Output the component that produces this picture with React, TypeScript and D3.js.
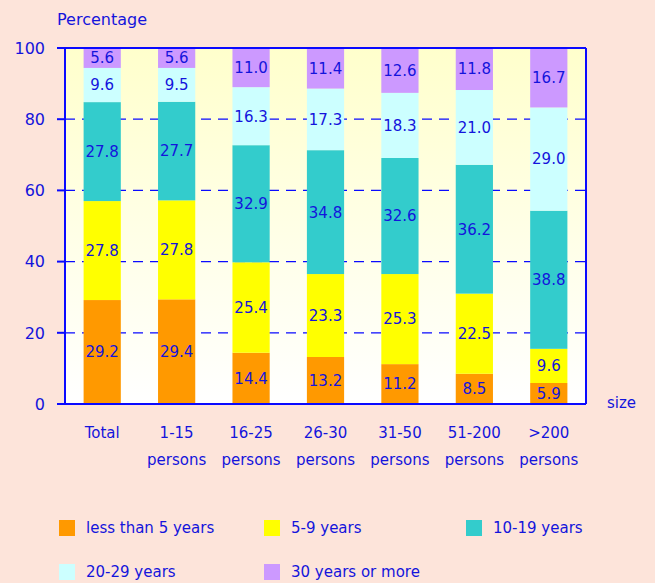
import React, { useEffect, useRef } from "react";
import * as d3 from "d3";

const categories = ["Total", "1-15", "16-25", "26-30", "31-50", "51-200", ">200"];
const secondLine = ["", "persons", "persons", "persons", "persons", "persons", "persons"];
const seriesNames = ["less than 5 years", "5-9 years", "10-19 years", "20-29 years", "30 years or more"];
const colors = ["#ff9900", "#ffff00", "#33cccc", "#ccffff", "#cc99ff"];

const under5 = [29.2, 29.4, 14.4, 13.2, 11.2, 8.5, 5.9];
const y5to9 = [27.8, 27.8, 25.4, 23.3, 25.3, 22.5, 9.6];
const y10to19 = [27.8, 27.7, 32.9, 34.8, 32.6, 36.2, 38.8];
const y20to29 = [9.6, 9.5, 16.3, 17.3, 18.3, 21.0, 29.0];
const y30plus = [5.6, 5.6, 11.0, 11.4, 12.6, 11.8, 16.7];

const yTicks = [0, 20, 40, 60, 80, 100];

const App = () => {
  const ref = useRef<SVGSVGElement>(null);

  useEffect(() => {
    const width = 655;
    const height = 583;
    const left = 65, right = 586, top = 48, bottom = 404;
    const lineBlue = "#0a0aff";
    const blue = "#1414dc";
    const font = "'DejaVu Sans', Verdana, sans-serif";

    const svg = d3.select(ref.current);
    svg.selectAll("*").remove();
    svg.attr("width", width).attr("height", height);

    // page background
    svg.append("rect").attr("width", width).attr("height", height).attr("fill", "#fde4da");

    const defs = svg.append("defs");
    const grad = defs.append("linearGradient")
      .attr("id", "plotbg").attr("x1", 0).attr("y1", 0).attr("x2", 0).attr("y2", 1);
    grad.append("stop").attr("offset", "0%").attr("stop-color", "#ffffcc");
    grad.append("stop").attr("offset", "100%").attr("stop-color", "#ffffff");

    const x = d3.scaleBand<string>()
      .domain(categories)
      .range([left, right])
      .paddingInner(0.5)
      .paddingOuter(0.25);

    const y = d3.scaleLinear().domain([0, 100]).range([bottom, top]);

    svg.append("rect")
      .attr("x", left).attr("y", top)
      .attr("width", right - left).attr("height", bottom - top)
      .attr("fill", "url(#plotbg)");

    // dashed gridlines
    svg.append("g").selectAll("line")
      .data(yTicks.filter(d => d > 0 && d < 100))
      .enter().append("line")
      .attr("x1", left).attr("x2", right)
      .attr("y1", d => y(d)).attr("y2", d => y(d))
      .attr("stroke", lineBlue).attr("stroke-width", 1.2)
      .attr("stroke-dasharray", "10,7");

    // stacked bars
    const table = categories.map((c, i) => ({
      cat: c,
      s0: under5[i], s1: y5to9[i], s2: y10to19[i], s3: y20to29[i], s4: y30plus[i],
    }));
    const keys = ["s0", "s1", "s2", "s3", "s4"];
    const stacked = d3.stack<any>().keys(keys)(table);

    const layers = svg.append("g").selectAll("g")
      .data(stacked)
      .enter().append("g")
      .attr("fill", (d, i) => colors[i]);

    layers.selectAll("rect")
      .data(d => d)
      .enter().append("rect")
      .attr("x", d => x(d.data.cat)!)
      .attr("width", x.bandwidth())
      .attr("y", d => y(d[1]))
      .attr("height", d => y(d[0]) - y(d[1]));

    layers.selectAll("text")
      .data((d, i) => d.map(v => ({ v, key: keys[i] })))
      .enter().append("text")
      .attr("x", d => x(d.v.data.cat)! + x.bandwidth() / 2)
      .attr("y", d => (y(d.v[0]) + y(d.v[1])) / 2)
      .attr("dy", "0.36em")
      .attr("text-anchor", "middle")
      .attr("font-family", font)
      .attr("font-size", 15)
      .attr("fill", blue)
      .text(d => (d.v.data[d.key] as number).toFixed(1));

    // frame and axes
    const frame = svg.append("g").attr("stroke", lineBlue).attr("stroke-width", 2).attr("fill", "none");
    frame.append("line").attr("x1", left).attr("x2", right).attr("y1", top).attr("y2", top);
    frame.append("line").attr("x1", right).attr("x2", right).attr("y1", top).attr("y2", bottom);
    frame.append("line").attr("x1", left).attr("x2", left).attr("y1", top).attr("y2", bottom);
    frame.append("line").attr("x1", left - 8).attr("x2", right).attr("y1", bottom).attr("y2", bottom);
    frame.selectAll(".tick")
      .data(yTicks)
      .enter().append("line")
      .attr("x1", left - 8).attr("x2", left)
      .attr("y1", d => y(d)).attr("y2", d => y(d));

    svg.append("g").selectAll("text")
      .data(yTicks)
      .enter().append("text")
      .attr("x", 45)
      .attr("y", d => y(d))
      .attr("dy", "0.36em")
      .attr("text-anchor", "end")
      .attr("font-family", font)
      .attr("font-size", 16)
      .attr("fill", blue)
      .text(d => d);

    svg.append("text")
      .attr("x", 57).attr("y", 25)
      .attr("font-family", font).attr("font-size", 16)
      .attr("fill", blue)
      .text("Percentage");

    svg.append("text")
      .attr("x", 607).attr("y", 403)
      .attr("dy", "0.36em")
      .attr("font-family", font).attr("font-size", 15)
      .attr("fill", blue)
      .text("size");

    // category labels
    const xl = svg.append("g");
    xl.selectAll("text.l1")
      .data(categories)
      .enter().append("text")
      .attr("x", d => x(d)! + x.bandwidth() / 2)
      .attr("y", 433)
      .attr("dy", "0.36em")
      .attr("text-anchor", "middle")
      .attr("font-family", font).attr("font-size", 15)
      .attr("fill", blue)
      .text(d => d);
    xl.selectAll("text.l2")
      .data(categories)
      .enter().append("text")
      .attr("x", d => x(d)! + x.bandwidth() / 2)
      .attr("y", 460)
      .attr("dy", "0.36em")
      .attr("text-anchor", "middle")
      .attr("font-family", font).attr("font-size", 15)
      .attr("fill", blue)
      .text((d, i) => secondLine[i]);

    // legend
    const legendX = [59, 264, 466];
    const legendY = [520, 564];
    const legend = svg.append("g").selectAll("g")
      .data(seriesNames)
      .enter().append("g")
      .attr("transform", (d, i) => `translate(${legendX[i % 3]},${legendY[Math.floor(i / 3)]})`);
    legend.append("rect")
      .attr("width", 16).attr("height", 16)
      .attr("fill", (d, i) => colors[i]);
    legend.append("text")
      .attr("x", 27).attr("y", 8)
      .attr("dy", "0.36em")
      .attr("font-family", font).attr("font-size", 15)
      .attr("fill", blue)
      .text(d => d);
  }, []);

  return <svg ref={ref} style={{ position: "absolute", left: 0, top: 0, display: "block" }} />;
};

export default App;
